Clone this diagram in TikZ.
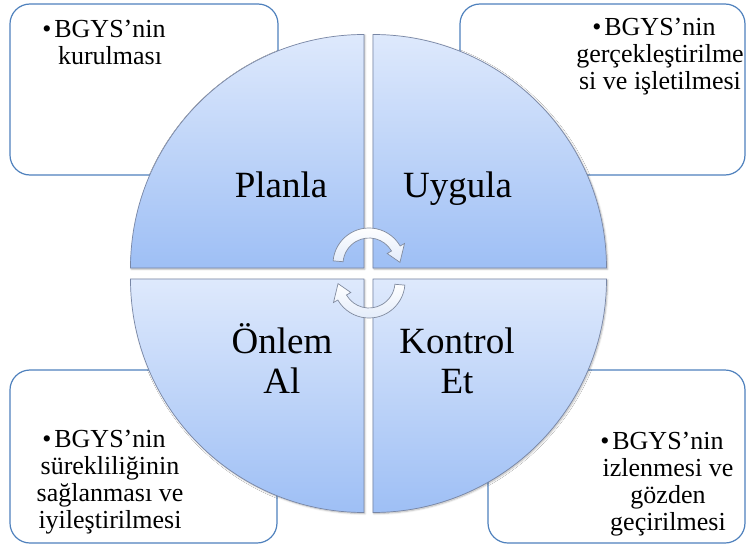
\documentclass[tikz,border=0pt]{standalone}
\usepackage{fontspec}
\setmainfont{Liberation Serif}
\usetikzlibrary{shadows.blur}
\definecolor{boxblue}{RGB}{79,129,189}
\definecolor{quadtop}{RGB}{222,233,252}
\definecolor{quadbottom}{RGB}{158,191,245}
\definecolor{quadline}{RGB}{120,134,165}
\definecolor{arrowfill}{RGB}{226,235,250}
\definecolor{arrowline}{RGB}{128,138,158}

\begin{document}
\begin{tikzpicture}[x=1pt,y=1pt]
			\tikzstyle{task box}=[draw=boxblue,line width=1.2pt,rounded corners=20pt,fill=white,inner sep=0]
			\tikzstyle{quadrant}=[draw=quadline,line width=0.7pt,top color=quadtop,bottom color=quadbottom,
				blur shadow={shadow xshift=1pt,shadow yshift=-1pt,shadow blur steps=6,shadow opacity=30}]
			\tikzset{
				cycle arrow/.style={draw=arrowline,line width=0.7pt,top color=white,bottom color=arrowfill},
				phase/.style={font=\fontsize{37}{40}\selectfont,align=center,inner sep=0},
				item/.style={font=\fontsize{26}{27}\selectfont,align=center,inner sep=0}
			}
			\useasboundingbox (-368.5,-270.5) rectangle (378.5,273.5);
			\node(plan box)[task box,minimum width=268pt,minimum height=171pt] at (-224.5,184) {};
			\node(do box)[task box,minimum width=285pt,minimum height=171pt] at (234,184) {};
			\node(act box)[task box,minimum width=267pt,minimum height=173pt] at (-225,-183) {};
			\node(check box)[task box,minimum width=257pt,minimum height=173pt] at (248,-183) {};
			\path[quadrant] (-4.5,5.5) -- (-238,5.5) arc[start angle=180,end angle=90,radius=233.5] -- cycle;
			\path[quadrant] (4.5,5.5) -- (4.5,239) arc[start angle=90,end angle=0,radius=233.5] -- cycle;
			\path[quadrant] (-4.5,-5.5) -- (-238,-5.5) arc[start angle=180,end angle=270,radius=233.5] -- cycle;
			\path[quadrant] (4.5,-5.5) -- (238,-5.5) arc[start angle=0,end angle=-90,radius=233.5] -- cycle;
			\path[cycle arrow,shift={(0.5,9.5)}] (175:36) arc[start angle=175,end angle=30,radius=36]
				-- (30:41) -- (3:31) -- (30:21) -- (30:26) arc[start angle=30,end angle=175,radius=26] -- cycle;
			\path[cycle arrow,shift={(0.5,-8.5)},rotate=180] (175:36) arc[start angle=175,end angle=30,radius=36]
				-- (30:41) -- (3:31) -- (30:21) -- (30:26) arc[start angle=30,end angle=175,radius=26] -- cycle;
			\node(plan)[phase,anchor=base] at (-87.5,76.5) {Planla};
			\node(do)[phase,anchor=base] at (89,76.5) {Uygula};
			\node(act)[phase,anchor=base] at (-86.5,-119.5) {Önlem\\Al};
			\node(check)[phase,anchor=base] at (88.5,-119.5) {Kontrol\\Et};
			\node(plan item)[item,anchor=base] at (-258.5,208.5) {\llap{•\hspace{3pt}}BGYS’nin\\kurulması};
			\node(do item)[item,anchor=base] at (291.5,183.5) {\llap{•\hspace{3pt}}BGYS’nin\\gerçekleştirilme\\si ve işletilmesi};
			\node(act item)[item,anchor=base] at (-258.5,-254.5) {\llap{•\hspace{3pt}}BGYS’nin\\sürekliliğinin\\sağlanması ve\\iyileştirilmesi};
			\node(check item)[item,anchor=base] at (299.5,-256.5) {\llap{•\hspace{3pt}}BGYS’nin\\izlenmesi ve\\gözden\\geçirilmesi};
		\end{tikzpicture}
\end{document}
